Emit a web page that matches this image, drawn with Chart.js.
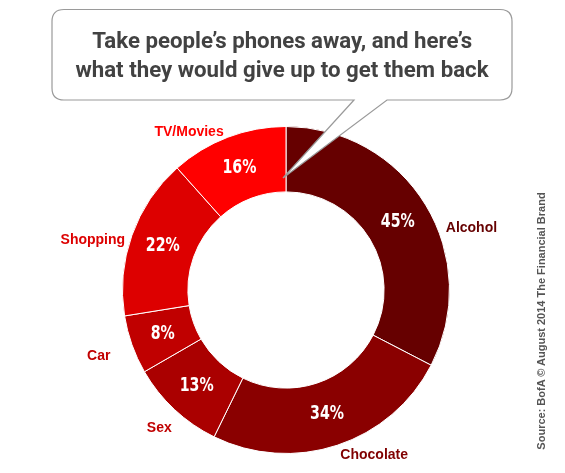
<!DOCTYPE html>
<html>
<head>
<meta charset="utf-8">
<script src="https://cdn.jsdelivr.net/npm/chart.js@4.4.1/dist/chart.umd.min.js"></script>
<style>
  html, body { margin: 0; padding: 0; background: #ffffff; }
  #wrap { position: relative; width: 565px; height: 473px; overflow: hidden; }
  #chart { position: absolute; left: 0; top: 0; }
  #bubble { position: absolute; left: 0; top: 0; pointer-events: none; }
  #title {
    position: absolute; left: 52px; top: 26px; width: 460px;
    text-align: center; color: #424242;
    font-family: "Roboto", "DejaVu Sans Condensed", sans-serif;
    font-size: 22.5px; line-height: 28.5px; font-weight: bold;
  }
  #title span { display: inline-block; white-space: nowrap; transform-origin: 50% 50%; }
  #source {
    position: absolute; left: 541px; top: 321px; width: 260px;
    transform: translate(-50%, -50%) rotate(-90deg);
    text-align: center; color: #555555; white-space: nowrap;
    font-family: "Liberation Sans", Arial, sans-serif; font-size: 11px; font-weight: bold;
  }
</style>
</head>
<body>
<div id="wrap">
  <canvas id="chart" width="565" height="473"></canvas>
  <svg id="bubble" width="565" height="473" viewBox="0 0 565 473">
    <path d="M64,9.5 L500,9.5 Q512,9.5 512,21.5 L512,88 Q512,100 500,100 L387,100 L283,178 L354,100 L64,100 Q52,100 52,88 L52,21.5 Q52,9.5 64,9.5 Z"
          fill="#ffffff" stroke="#9a9a9a" stroke-width="1.2"/>
  </svg>
  <div id="title"><span id="t1">Take people’s phones away, and here’s</span><br><span id="t2">what they would give up to get them back</span></div>
  <div id="source">Source: BofA © August 2014 The Financial Brand</div>
</div>
<script>
const categories = ["Alcohol", "Chocolate", "Sex", "Car", "Shopping", "TV/Movies"];
const values = [45, 34, 13, 8, 22, 16];
const valueLabels = ["45%", "34%", "13%", "8%", "22%", "16%"];

const sliceColors = ["#660000", "#8a0000", "#aa0000", "#c00000", "#dd0000", "#ff0000"];
const labelColors = ["#660000", "#800000", "#c00000", "#c00000", "#dd0000", "#ff0000"];
// label placement: [angle nudge in degrees, gap beyond outer radius in px]
const labelPlacement = [[10, 8], [0, 10], [-3.5, 16], [-1, 24], [-2.3, 5], [-0.7, 6]];

// condense the title lines to the reference's narrow face
(function () {
  const t1 = document.getElementById('t1');
  const t2 = document.getElementById('t2');
  const s = 380 / t1.getBoundingClientRect().width;
  t1.style.transform = 'scaleX(' + s + ')';
  t2.style.transform = 'scaleX(' + s + ')';
})();

const sliceLabels = {
  id: 'sliceLabels',
  afterDatasetsDraw(chart) {
    const ctx = chart.ctx;
    const meta = chart.getDatasetMeta(0);
    meta.data.forEach((arc, i) => {
      const p = arc.getProps(['x', 'y', 'startAngle', 'endAngle', 'innerRadius', 'outerRadius'], true);
      const mid = (p.startAngle + p.endAngle) / 2;
      const rIn = (p.innerRadius + p.outerRadius) / 2;
      ctx.save();
      ctx.translate(p.x + Math.cos(mid) * rIn, p.y + Math.sin(mid) * rIn);
      ctx.scale(0.83, 1);
      ctx.fillStyle = '#ffffff';
      ctx.font = 'bold 19px "DejaVu Sans Condensed", sans-serif';
      ctx.textAlign = 'center';
      ctx.textBaseline = 'middle';
      ctx.fillText(valueLabels[i], 0, 0);
      ctx.restore();

      const a = mid + labelPlacement[i][0] * Math.PI / 180;
      const r = p.outerRadius + labelPlacement[i][1];
      const lx = p.x + Math.cos(a) * r;
      const ly = p.y + Math.sin(a) * r;
      const c = Math.cos(a);
      ctx.save();
      ctx.textAlign = c > 0.2 ? 'left' : (c < -0.2 ? 'right' : 'center');
      ctx.textBaseline = 'middle';
      ctx.fillStyle = labelColors[i];
      ctx.font = 'bold 14px "Liberation Sans", Arial, sans-serif';
      ctx.fillText(categories[i], lx, ly);
      ctx.restore();
    });
  }
};

new Chart(document.getElementById('chart'), {
  type: 'doughnut',
  data: {
    labels: categories,
    datasets: [{
      data: values,
      backgroundColor: sliceColors,
      borderColor: '#ffffff',
      borderWidth: 1
    }]
  },
  options: {
    responsive: false,
    animation: false,
    cutout: '60%',
    layout: { padding: { left: 122, right: 115, top: 126, bottom: 19 } },
    plugins: {
      legend: { display: false },
      tooltip: { enabled: false },
      title: { display: false }
    }
  },
  plugins: [sliceLabels]
});
</script>
</body>
</html>
